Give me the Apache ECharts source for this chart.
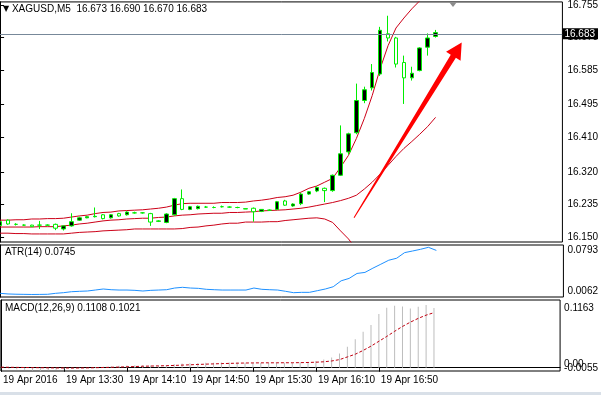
<!DOCTYPE html>
<html><head><meta charset="utf-8">
<script src="https://cdn.jsdelivr.net/npm/echarts@6/dist/echarts.min.js"></script>
<style>html,body{margin:0;padding:0;background:#fff;overflow:hidden}#c{width:601px;height:395px}</style>
</head><body><div id="c"></div>
<script>
// ---- data ----
const symbolName = 'XAGUSD,M5';
const times = ['12:50','12:55','13:00','13:05','13:10','13:15','13:20','13:25',
  '13:30','13:35','13:40','13:45','13:50','13:55','14:00','14:05',
  '14:10','14:15','14:20','14:25','14:30','14:35','14:40','14:45',
  '14:50','14:55','15:00','15:05','15:10','15:15','15:20','15:25',
  '15:30','15:35','15:40','15:45','15:50','15:55','16:00','16:05',
  '16:10','16:15','16:20','16:25','16:30','16:35','16:40','16:45',
  '16:50','16:55','17:00','17:05','17:10','17:15','17:20','17:25'];
const tickIndex = [0, 8, 16, 24, 32, 40, 48];
const tickLabels = ['19 Apr 2016','19 Apr 13:30','19 Apr 14:10','19 Apr 14:50','19 Apr 15:30','19 Apr 16:10','19 Apr 16:50'];
const priceTicks = [16.150, 16.235, 16.320, 16.410, 16.495, 16.585, 16.670, 16.755];
const atrTicks = [0.0062, 0.0793];
const macdTicks = [-0.0055, 0.1163];
const macdZero = [0];

const opens  = [16.180,16.194,16.183,16.181,16.181,16.181,16.181,16.183,16.171,16.179,
  16.194,16.200,16.203,16.208,16.200,16.211,16.208,16.213,16.213,16.211,
  16.191,16.188,16.208,16.250,16.222,16.224,16.228,16.227,16.229,16.228,
  16.227,16.224,16.225,16.217,16.220,16.222,16.244,16.231,16.237,16.262,
  16.270,16.277,16.271,16.311,16.372,16.422,16.506,16.539,16.575,16.680,
  16.669,16.605,16.565,16.584,16.645,16.673];
const closes = [16.190,16.184,16.183,16.181,16.177,16.181,16.181,16.173,16.179,16.190,
  16.200,16.203,16.204,16.198,16.208,16.205,16.215,16.213,16.213,16.189,
  16.192,16.210,16.250,16.222,16.229,16.230,16.228,16.227,16.229,16.228,
  16.227,16.223,16.216,16.222,16.220,16.242,16.233,16.236,16.262,16.268,
  16.279,16.271,16.311,16.367,16.419,16.506,16.534,16.579,16.689,16.669,
  16.601,16.565,16.577,16.643,16.669,16.683];
const lows   = [16.178,16.182,16.180,16.179,16.176,16.171,16.179,16.168,16.167,16.177,
  16.192,16.199,16.201,16.196,16.198,16.203,16.206,16.211,16.211,16.179,
  16.189,16.186,16.206,16.220,16.220,16.222,16.226,16.225,16.227,16.226,
  16.225,16.223,16.190,16.215,16.218,16.220,16.231,16.229,16.233,16.260,
  16.267,16.241,16.268,16.309,16.365,16.418,16.499,16.532,16.570,16.660,
  16.592,16.497,16.558,16.582,16.623,16.670];
const highs  = [16.192,16.196,16.186,16.183,16.182,16.192,16.183,16.185,16.180,16.212,
  16.203,16.205,16.227,16.210,16.210,16.213,16.217,16.216,16.215,16.213,
  16.194,16.212,16.252,16.274,16.231,16.232,16.231,16.230,16.232,16.230,
  16.229,16.224,16.227,16.223,16.222,16.244,16.247,16.238,16.265,16.270,
  16.282,16.279,16.313,16.441,16.422,16.550,16.542,16.601,16.698,16.727,
  16.672,16.623,16.594,16.645,16.681,16.690];

const bbUpper = [16.194,16.194,16.195,16.195,16.197,16.197,16.198,16.198,16.199,16.202,
  16.205,16.207,16.211,16.214,16.215,16.218,16.219,16.220,16.221,16.223,
  16.225,16.228,16.233,16.237,16.238,16.238,16.238,16.238,16.240,16.240,
  16.240,16.241,16.244,16.246,16.249,16.253,16.255,16.259,16.267,16.277,
  16.283,16.293,16.303,16.332,16.363,16.407,16.459,16.519,16.589,16.649,
  16.695,16.721,16.745,16.766,16.786,16.805];
const bbMiddle = [16.176,16.176,16.176,16.176,16.176,16.177,16.177,16.177,16.179,16.181,
  16.184,16.186,16.189,16.192,16.194,16.195,16.197,16.198,16.199,16.199,
  16.201,16.202,16.205,16.207,16.208,16.210,16.211,16.212,16.212,16.214,
  16.214,16.215,16.216,16.218,16.219,16.220,16.221,16.223,16.225,16.228,
  16.232,16.236,16.240,16.245,16.251,16.259,16.275,16.293,16.314,16.337,
  16.360,16.381,16.399,16.418,16.438,16.462];
const bbLower = [16.160,16.160,16.159,16.159,16.158,16.158,16.158,16.158,16.158,16.160,
  16.162,16.163,16.164,16.166,16.167,16.168,16.169,16.171,16.171,16.171,
  16.171,16.171,16.171,16.172,16.175,16.176,16.179,16.181,16.184,16.186,
  16.186,16.189,16.189,16.189,16.190,16.190,16.193,16.195,16.197,16.199,
  16.200,16.197,16.188,16.166,16.145,16.118,16.091,16.067,16.039,16.025,
  16.025,16.041,16.053,16.070,16.090,16.119];

const atr = [0.0080,0.0070,0.0066,0.0064,0.0062,0.0063,0.0065,0.0080,0.0090,0.0105,
  0.0111,0.0116,0.0131,0.0147,0.0136,0.0131,0.0131,0.0126,0.0116,0.0126,
  0.0131,0.0136,0.0162,0.0173,0.0162,0.0157,0.0142,0.0136,0.0131,0.0131,
  0.0131,0.0131,0.0162,0.0142,0.0136,0.0131,0.0111,0.0090,0.0095,0.0095,
  0.0121,0.0147,0.0182,0.0274,0.0311,0.0388,0.0404,0.0470,0.0531,0.0593,
  0.0624,0.0711,0.0736,0.0762,0.0793,0.0745];

const macd = [-0.0010,-0.0020,-0.0030,-0.0040,-0.0050,-0.0055,-0.0045,-0.0040,-0.0035,-0.0020,
  -0.0008,0.0000,0.0012,0.0020,0.0028,0.0035,0.0042,0.0047,0.0050,0.0040,
  0.0036,0.0045,0.0070,0.0078,0.0082,0.0086,0.0090,0.0092,0.0095,0.0096,
  0.0096,0.0094,0.0088,0.0087,0.0086,0.0092,0.0094,0.0094,0.0100,0.0105,
  0.0125,0.0150,0.0190,0.0265,0.0390,0.0530,0.0665,0.0790,0.0995,0.1110,
  0.1150,0.1135,0.1100,0.1130,0.1163,0.1108];
const signal = [0.0010,0.0008,0.0006,0.0004,0.0002,0.0000,-0.0002,-0.0004,-0.0005,-0.0006,
  -0.0005,-0.0003,0.0000,0.0004,0.0008,0.0012,0.0017,0.0022,0.0027,0.0031,
  0.0034,0.0038,0.0042,0.0048,0.0054,0.0060,0.0066,0.0071,0.0076,0.0080,
  0.0084,0.0087,0.0089,0.0090,0.0091,0.0091,0.0092,0.0092,0.0094,0.0097,
  0.0102,0.0110,0.0125,0.0150,0.0200,0.0250,0.0320,0.0400,0.0490,0.0580,
  0.0675,0.0765,0.0845,0.0915,0.0975,0.1021];

const lastPrice = 16.683;
const arrowFrom = [44.7, 16.200];
const arrowTo = [58.3, 16.657];

// ---- chart ----
const FONT = '"Liberation Sans", Arial, sans-serif';
const chart = echarts.init(document.getElementById('c'), null, {renderer: 'canvas'});
const last = times.length - 1;
const candleData = times.map((t, i) => [i, opens[i], closes[i], lows[i], highs[i]]);
const pair = arr => arr.map((v, i) => [i, v]);
const near = (a, b) => Math.abs(a - b) < 1e-7;

const X_MIN = -0.012, X_MAX = 71.02;
const txt = {fontSize: 10, fontFamily: FONT, color: '#000'};
const showAll = {hideOverlap: false, showMinLabel: true, showMaxLabel: true};
const MACD_MIN = -0.0061, MACD_MAX = 0.1256;

function xAxisHidden(g) {
  return {type: 'value', gridIndex: g, min: X_MIN, max: X_MAX, show: false};
}

const option = {
  animation: false,
  backgroundColor: '#ffffff',
  title: [
    {left: 3, top: 4, padding: 0,
     text: '{tri|▼} ' + symbolName + '  ' + [opens[last], highs[last], lows[last], closes[last]].map(v => v.toFixed(3)).join(' '),
     textStyle: Object.assign({fontWeight: 'normal', rich: {tri: {fontSize: 8, fontFamily: '"DejaVu Sans"', color: '#000'}}}, txt)},
    {left: 5, top: 247, padding: 0, text: 'ATR(14) ' + atr[last].toFixed(4),
     textStyle: Object.assign({fontWeight: 'normal'}, txt)},
    {left: 5, top: 303, padding: 0,
     text: 'MACD(12,26,9) ' + macd[last].toFixed(4) + ' ' + signal[last].toFixed(4),
     textStyle: Object.assign({fontWeight: 'normal'}, txt)}
  ],
  grid: [
    {left: -1, right: 32, top: 1, height: 241, show: true, borderColor: '#000', borderWidth: 1, backgroundColor: 'transparent'},
    {left: -1, right: 32, top: 245, height: 52, show: true, borderColor: '#000', borderWidth: 1, backgroundColor: 'transparent'},
    {left: -1, right: 32, top: 300, height: 71, show: true, borderColor: '#000', borderWidth: 1, backgroundColor: 'transparent'}
  ],
  xAxis: [
    xAxisHidden(0),
    xAxisHidden(1),
    {type: 'value', gridIndex: 2, min: X_MIN, max: X_MAX,
     axisLine: {show: true, lineStyle: {color: '#000'}},
     axisTick: {show: true, customValues: tickIndex, length: 4, lineStyle: {color: '#000'}},
     axisLabel: Object.assign({customValues: tickIndex, align: 'left', margin: 4,
       padding: [0, 0, 0, 2],
       formatter: v => tickLabels[tickIndex.indexOf(Math.round(v))] || ''}, showAll, txt),
     splitLine: {show: false}}
  ],
  yAxis: [
    {type: 'value', gridIndex: 0, position: 'right', min: 16.137, max: 16.763,
     axisLine: {show: true, lineStyle: {color: '#000'}},
     axisTick: {show: true, customValues: priceTicks, length: 4, lineStyle: {color: '#000'}},
     axisLabel: Object.assign({customValues: priceTicks, margin: 5, formatter: v => v.toFixed(3)}, showAll, txt),
     splitLine: {show: false}},
    {type: 'value', gridIndex: 1, position: 'right', min: 0.0023, max: 0.0829,
     axisLine: {show: true, lineStyle: {color: '#000'}},
     axisTick: {show: false},
     axisLabel: Object.assign({customValues: atrTicks, margin: 4,
       formatter: v => (near(v, atrTicks[1]) ? '{t|' : '{b|') + v.toFixed(4) + '}',
       rich: {t: Object.assign({padding: [6, 0, 0, 0]}, txt), b: Object.assign({padding: [0, 0, 6, 0]}, txt)}}, showAll, txt),
     splitLine: {show: false}},
    {type: 'value', gridIndex: 2, position: 'right', min: MACD_MIN, max: MACD_MAX,
     axisLine: {show: true, lineStyle: {color: '#000'}},
     axisTick: {show: false},
     axisLabel: Object.assign({customValues: macdTicks, margin: 4,
       formatter: v => near(v, macdTicks[1]) ? '{t|' + v.toFixed(4) + '}' : '{b|' + v.toFixed(4) + '}',
       rich: {t: Object.assign({padding: [6, 0, 0, 0]}, txt),
              b: Object.assign({padding: [0, 0, 4, 0]}, txt)}}, showAll, txt),
     splitLine: {show: false}},
    {type: 'value', gridIndex: 2, position: 'right', min: MACD_MIN, max: MACD_MAX,
     axisLine: {show: false}, axisTick: {show: false},
     axisLabel: Object.assign({customValues: macdZero, margin: 4,
       formatter: v => '{z|' + v.toFixed(2) + '}',
       rich: {z: Object.assign({padding: [0, 0, 7, 0]}, txt)}}, showAll, txt),
     splitLine: {show: false}}
  ],
  series: [
    {type: 'line', name: 'BB upper', xAxisIndex: 0, yAxisIndex: 0, data: pair(bbUpper), symbol: 'none', clip: true,
     lineStyle: {color: '#cc0018', width: 1}, z: 1},
    {type: 'line', name: 'BB middle', xAxisIndex: 0, yAxisIndex: 0, data: pair(bbMiddle), symbol: 'none', clip: true,
     lineStyle: {color: '#cc0018', width: 1}, z: 1},
    {type: 'line', name: 'BB lower', xAxisIndex: 0, yAxisIndex: 0, data: pair(bbLower), symbol: 'none', clip: true,
     lineStyle: {color: '#cc0018', width: 1}, z: 1},
    {type: 'candlestick', name: symbolName, xAxisIndex: 0, yAxisIndex: 0, data: candleData,
     encode: {x: 0, y: [1, 2, 3, 4]}, barWidth: 4, z: 3,
     itemStyle: {color: '#000000', color0: '#ffffff', borderColor: '#00ee00', borderColor0: '#00ee00', borderWidth: 1},
     markLine: {silent: true, symbol: ['none', 'none'], animation: false,
       data: [{yAxis: lastPrice}],
       lineStyle: {color: '#778899', width: 1, type: 'solid'},
       label: Object.assign({position: 'end', distance: 0, formatter: lastPrice.toFixed(3),
         backgroundColor: '#000', padding: [0, 3, 0, 2], lineHeight: 11}, txt, {color: '#fff'})}},
    {type: 'line', name: 'ATR', xAxisIndex: 1, yAxisIndex: 1, data: pair(atr), symbol: 'none',
     lineStyle: {color: '#1e90ff', width: 1}},
    {type: 'bar', name: 'MACD', xAxisIndex: 2, yAxisIndex: 2, data: pair(macd), barWidth: 1,
     itemStyle: {color: '#bdbdbd'}},
    {type: 'line', name: 'Signal', xAxisIndex: 2, yAxisIndex: 2, data: pair(signal), symbol: 'none',
     lineStyle: {color: '#c00010', width: 1, type: [3, 2]}}
  ]
};
chart.setOption(option);

// arrow annotation placed in data coordinates
const P0 = chart.convertToPixel({xAxisIndex: 0, yAxisIndex: 0}, arrowFrom);
const P1 = chart.convertToPixel({xAxisIndex: 0, yAxisIndex: 0}, arrowTo);
const dx = P1[0] - P0[0], dy = P1[1] - P0[1], L = Math.hypot(dx, dy);
const ux = dx / L, uy = dy / L, nx = -uy, ny = ux;
const HL = 16, HW = 8.5, SW = 3, TW = 0.5;
const B = [P1[0] - ux * HL, P1[1] - uy * HL];
const pts = [
  [P0[0] + nx * TW, P0[1] + ny * TW],
  [B[0] + nx * SW, B[1] + ny * SW],
  [B[0] + nx * HW, B[1] + ny * HW],
  [P1[0], P1[1]],
  [B[0] - nx * HW, B[1] - ny * HW],
  [B[0] - nx * SW, B[1] - ny * SW],
  [P0[0] - nx * TW, P0[1] - ny * TW]
];
chart.setOption({
  graphic: [
    {type: 'polygon', shape: {points: pts}, style: {fill: '#ff0000'}, z: 100, silent: true},
    {type: 'polygon', shape: {points: [[449, 2], [457, 2], [453, 7]]}, style: {fill: '#8c8c8c'}, z: 100, silent: true},
    {type: 'rect', shape: {x: 0, y: 392, width: 601, height: 3}, style: {fill: '#d9e0e8'}, z: 100, silent: true}
  ]
});
</script>
</body></html>
